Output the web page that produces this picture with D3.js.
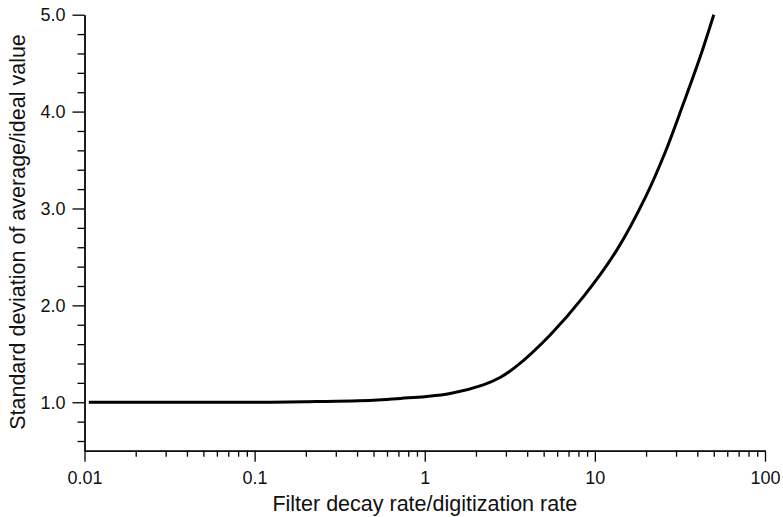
<!DOCTYPE html>
<html>
<head>
<meta charset="utf-8">
<script src="https://cdn.jsdelivr.net/npm/d3@7"></script>
<style>
  body { margin: 0; background: #fff; }
  text { font-family: "Liberation Sans", Arial, sans-serif; fill: #111; }
  .axis path, .axis line { stroke: #000; stroke-width: 1.3; }
</style>
</head>
<body>
<div id="chart"></div>
<script>
// curve
var ratio = [0.0106, 0.05, 0.1, 0.2, 0.5, 0.72, 1, 1.41, 2.21, 2.77, 3.48, 5.46, 8.57, 13.45, 20, 25.9, 33.1, 41.5, 50];
var stdev = [1.0, 1.0, 1.0, 1.005, 1.02, 1.04, 1.058, 1.09, 1.18, 1.255, 1.375, 1.695, 2.09, 2.57, 3.13, 3.58, 4.08, 4.56, 5.0];

var xMajor = [0.01, 0.1, 1, 10, 100];
var xLabels = ["0.01", "0.1", "1", "10", "100"];
var yMajor = [1, 2, 3, 4, 5];
var yMinor = [0.6, 0.8, 1.2, 1.4, 1.6, 1.8, 2.2, 2.4, 2.6, 2.8, 3.2, 3.4, 3.6, 3.8, 4.2, 4.4, 4.6, 4.8];

var xMinor = [];
[0.01, 0.1, 1, 10].forEach(function (d) {
  for (var k = 2; k <= 9; k++) xMinor.push(d * k);
});

var data = ratio.map(function (r, i) { return [r, stdev[i]]; });

var svg = d3.select("#chart")
    .append("svg")
    .attr("width", 783)
    .attr("height", 517);

var pArea = [84.5, 14.7, 765, 450.7];

var x = d3.scaleLog()
    .domain([0.01, 100])
    .range([pArea[0], pArea[2]]);
var y = d3.scaleLinear()
    .domain([0.5, 5])
    .range([pArea[3], pArea[1]]);

var g = svg.append("g");

// minor ticks first
g.append("g")
  .attr("class", "axis")
  .attr("transform", `translate(0,${pArea[3]})`)
  .call(d3.axisBottom(x).tickValues(xMinor).tickFormat("").tickSize(6).tickSizeOuter(0));
g.append("g")
  .attr("class", "axis")
  .attr("transform", `translate(${pArea[0]},0)`)
  .call(d3.axisLeft(y).tickValues(yMinor).tickFormat("").tickSize(7).tickSizeOuter(0));

var xa = g.append("g")
  .attr("class", "axis")
  .attr("transform", `translate(0,${pArea[3]})`)
  .call(d3.axisBottom(x).tickValues(xMajor)
    .tickFormat(function (d, i) { return xLabels[i]; })
    .tickSize(11).tickSizeOuter(0).tickPadding(10));
xa.selectAll("text").style("font-size", "18px").attr("fill", "#111");

var ya = g.append("g")
  .attr("class", "axis")
  .attr("transform", `translate(${pArea[0]},0)`)
  .call(d3.axisLeft(y).tickValues(yMajor).tickFormat(d3.format(".1f"))
    .tickSize(12).tickSizeOuter(0).tickPadding(7));
ya.selectAll("text").style("font-size", "18px").attr("fill", "#111");

svg.append("text")
  .attr("x", (pArea[0] + pArea[2]) / 2)
  .attr("y", 511)
  .attr("text-anchor", "middle")
  .style("font-size", "21.5px")
  .text("Filter decay rate/digitization rate");

svg.append("text")
  .attr("transform", "translate(24.5,232) rotate(-90)")
  .attr("text-anchor", "middle")
  .style("font-size", "21.5px")
  .text("Standard deviation of average/ideal value");

var line = d3.line()
  .x(function (d) { return x(d[0]); })
  .y(function (d) { return y(d[1]); })
  .curve(d3.curveCatmullRom.alpha(0.5));

svg.append("path")
  .datum(data)
  .attr("fill", "none")
  .attr("stroke", "#000")
  .attr("stroke-width", 3)
  .attr("d", line);
</script>
</body>
</html>
